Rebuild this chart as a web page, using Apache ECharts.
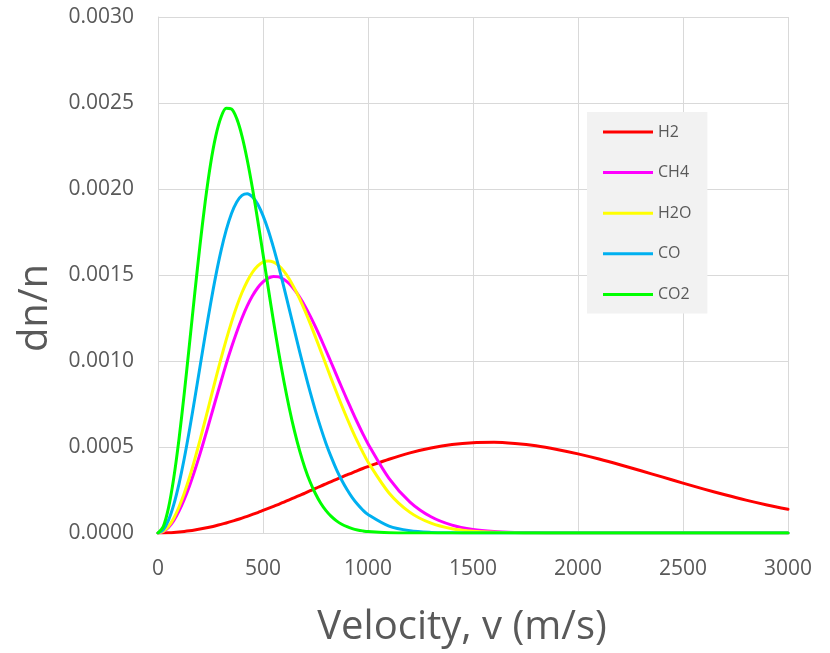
<!DOCTYPE html>
<html>
<head>
<meta charset="utf-8">
<script src="https://cdn.jsdelivr.net/npm/echarts@6/dist/echarts.min.js"></script>
<style>
html,body{margin:0;padding:0;background:#fff;}
#chart{width:830px;height:653px;}
</style>
</head>
<body>
<div id="chart"></div>
<script>
const velocity = [0,25,50,75,100,125,150,175,200,225,250,275,300,325,350,375,400,425,450,475,500,
  525,550,575,600,625,650,675,700,725,750,775,800,825,850,875,900,925,950,975,1000,
  1100,1200,1300,1400,1500,1600,1700,1800,1900,2000,2100,2200,2300,2400,2500,2600,2700,2800,2900,3000];

const seriesNames = ['H2','CH4','H2O','CO','CO2'];
const seriesColors = ['#ff0000','#ff00ff','#ffff00','#00b0f0','#00ff00'];

const h2 = [0,0.00000036,0.0000014,0.0000032,0.0000058,0.0000090,0.0000129,0.0000175,0.0000228,0.0000287,0.0000352,
  0.0000424,0.0000502,0.0000585,0.0000674,0.0000768,0.0000867,0.0000971,0.000108,0.000119,0.000131,
  0.000143,0.000155,0.000167,0.000180,0.000193,0.000206,0.000219,0.000232,0.000246,0.000259,
  0.000273,0.000286,0.000299,0.000312,0.000325,0.000338,0.000350,0.000363,0.000375,0.000386,
  0.000429,0.000466,0.000494,0.000514,0.000525,0.000527,0.000520,0.000507,0.000486,0.000460,
  0.000430,0.000397,0.000362,0.000326,0.000290,0.000255,0.000222,0.000191,0.000163,0.000138];

const ch4 = [0,0.0000082,0.0000325,0.0000723,0.000127,0.000195,0.000274,0.000363,0.000460,0.000563,0.000669,
  0.000776,0.000881,0.000984,0.001080,0.001169,0.001250,0.001320,0.001379,0.001426,0.001460,
  0.001482,0.001492,0.001489,0.001474,0.001449,0.001414,0.001370,0.001319,0.001261,0.001198,
  0.001131,0.001061,0.000990,0.000918,0.000846,0.000776,0.000707,0.000641,0.000578,0.000519,
  0.000318,0.000180,0.0000944,0.0000458,0.0000206,0.0000086,0.0000034,0.0000012,0.0000004,0,
  0,0,0,0,0,0,0,0,0,0];

const h2o = [0,0.0000097,0.0000387,0.0000861,0.000151,0.000231,0.000324,0.000428,0.000540,0.000658,0.000778,
  0.000898,0.001014,0.001124,0.001226,0.001318,0.001398,0.001464,0.001516,0.001553,0.001575,
  0.001582,0.001575,0.001554,0.001521,0.001477,0.001422,0.001360,0.001291,0.001217,0.001139,
  0.001059,0.000978,0.000897,0.000818,0.000741,0.000667,0.000597,0.000531,0.000470,0.000413,
  0.000233,0.000120,0.0000570,0.0000248,0.0000099,0.0000037,0.0000012,0.0000004,0,0,
  0,0,0,0,0,0,0,0,0,0];

const co = [0,0.0000189,0.0000747,0.000165,0.000286,0.000433,0.000600,0.000781,0.000967,0.001152,0.001330,
  0.001495,0.001640,0.001762,0.001858,0.001925,0.001963,0.001973,0.001954,0.001911,0.001845,
  0.001760,0.001659,0.001547,0.001427,0.001302,0.001176,0.001052,0.000932,0.000817,0.000710,
  0.000611,0.000521,0.000441,0.000369,0.000307,0.000253,0.000206,0.000167,0.000134,0.000107,
  0.0000394,0.0000128,0.0000036,0.0000009,0,0,0,0,0,0,
  0,0,0,0,0,0,0,0,0,0];

const co2 = [0,0.0000371,0.000146,0.000320,0.000546,0.000812,0.001100,0.001393,0.001674,0.001928,0.002143,
  0.002307,0.002417,0.002469,0.002465,0.002409,0.002308,0.002169,0.002003,0.001817,0.001622,
  0.001424,0.001231,0.001048,0.000879,0.000727,0.000592,0.000476,0.000377,0.000295,0.000228,
  0.000173,0.000130,0.0000965,0.0000706,0.0000510,0.0000364,0.0000256,0.0000178,0.0000123,0.0000083,
  0.0000016,0,0,0,0,0,0,0,0,0,
  0,0,0,0,0,0,0,0,0,0];

const allValues = [h2, ch4, h2o, co, co2];

const xTitle = 'Velocity, v (m/s)';
const yTitle = 'dn/n';

const chart = echarts.init(document.getElementById('chart'), null, {renderer:'canvas'});
const font = "'Open Sans', 'Noto Sans', sans-serif";
const textColor = '#595959';
const gridColor = '#d9d9d9';

const series = seriesNames.map((name, i) => ({
  name: name,
  type: 'line',
  data: velocity.map((v, j) => [v, allValues[i][j]]),
  showSymbol: false,
  symbol: 'none',
  smooth: 0.3,
  color: seriesColors[i],
  lineStyle: {width: 3, color: seriesColors[i], join: 'round', cap: 'round'},
  z: 2 + i
}));

chart.setOption({
  animation: false,
  backgroundColor: '#ffffff',
  grid: {left: 158, top: 17, right: 42, bottom: 120, containLabel: false},
  xAxis: {
    type: 'value', min: 0, max: 3000, interval: 500,
    axisLine: {show: true, lineStyle: {color: gridColor, width: 1}},
    axisTick: {show: false},
    splitLine: {show: true, lineStyle: {color: gridColor, width: 1}},
    axisLabel: {color: textColor, fontFamily: font, fontSize: 21, margin: 26,
      formatter: v => String(v)}
  },
  yAxis: {
    type: 'value', min: 0, max: 0.003, interval: 0.0005,
    axisLine: {show: true, lineStyle: {color: gridColor, width: 1}},
    axisTick: {show: false},
    splitLine: {show: true, lineStyle: {color: gridColor, width: 1}},
    axisLabel: {color: textColor, fontFamily: font, fontSize: 21, margin: 24,
      formatter: v => v.toFixed(4)}
  },
  legend: {
    orient: 'vertical',
    left: 587, top: 112,
    backgroundColor: '#f2f2f2',
    padding: [10, 16, 9, 16],
    itemWidth: 50, itemHeight: 3,
    itemGap: 20.6,
    icon: 'rect',
    textStyle: {color: textColor, fontFamily: font, fontSize: 16, lineHeight: 20},
    data: seriesNames
  },
  graphic: [
    {type: 'text', x: 462, y: 628, style: {text: xTitle, fill: textColor, font: "40px 'Open Sans', sans-serif", textAlign: 'center', textVerticalAlign: 'middle'}},
    {type: 'text', x: 36, y: 308, rotation: Math.PI / 2, style: {text: yTitle, fill: textColor, font: "40px 'Open Sans', sans-serif", textAlign: 'center', textVerticalAlign: 'middle'}}
  ],
  series: series
});
</script>
</body>
</html>
